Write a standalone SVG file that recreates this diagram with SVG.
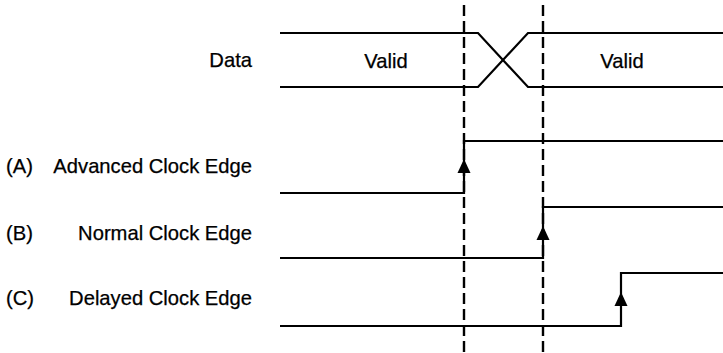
<svg xmlns="http://www.w3.org/2000/svg" width="723" height="353" viewBox="0 0 723 353">
<style>
.sig{fill:none;stroke:#000;stroke-width:2.2;stroke-linejoin:miter}
.dash{fill:none;stroke:#000;stroke-width:2.4;stroke-dasharray:11 5}
.lbl{font-family:"Liberation Sans",Arial,sans-serif;font-size:20.2px;fill:#000;stroke:#000;stroke-width:0.25}
.arr{fill:#000}
</style>
<rect width="723" height="353" fill="#fff"/>
<g id="labels">
<text class="lbl" x="252" y="67" text-anchor="end">Data</text>
<text class="lbl" x="6" y="173">(A)</text>
<text class="lbl" x="252" y="173" text-anchor="end">Advanced Clock Edge</text>
<text class="lbl" x="6" y="240">(B)</text>
<text class="lbl" x="252" y="240" text-anchor="end">Normal Clock Edge</text>
<text class="lbl" x="6" y="305">(C)</text>
<text class="lbl" x="252" y="305" text-anchor="end">Delayed Clock Edge</text>
</g>
<g id="data">
<path class="sig" d="M280,33 H478 L528,87 H723"/>
<path class="sig" d="M280,87 H478 L528,33 H723"/>
<text class="lbl" x="386" y="68" text-anchor="middle">Valid</text>
<text class="lbl" x="622" y="68" text-anchor="middle">Valid</text>
</g>
<g id="clockA">
<path class="sig" d="M280,193 H464 V141 H723"/>
<polygon class="arr" points="464,159 470.5,173 457.5,173"/>
</g>
<g id="clockB">
<path class="sig" d="M280,258 H543 V207 H723"/>
<polygon class="arr" points="543,226 549.5,240 536.5,240"/>
</g>
<g id="clockC">
<path class="sig" d="M280,326 H621 V273 H723"/>
<polygon class="arr" points="621,292 627.5,306 614.5,306"/>
</g>
<g id="connectors">
<line class="dash" x1="464" y1="5" x2="464" y2="353"/>
<line class="dash" x1="543" y1="5" x2="543" y2="353"/>
</g>
</svg>
